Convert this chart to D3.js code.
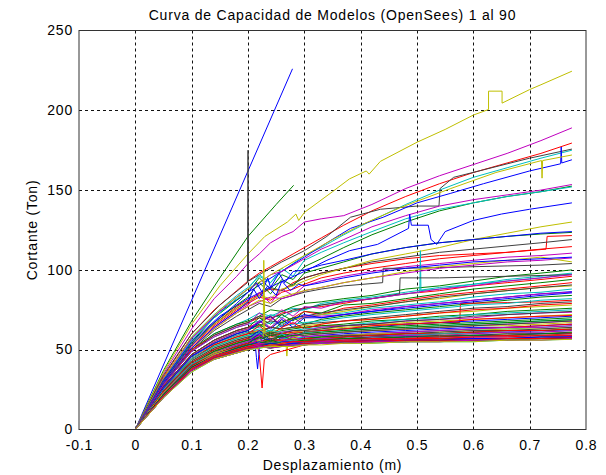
<!DOCTYPE html>
<html>
<head>
<meta charset="utf-8">
<script src="https://cdn.jsdelivr.net/npm/d3@7"></script>
<style>
  html, body { margin: 0; padding: 0; background: #fff; }
  text { font-family: "Liberation Sans", Arial, sans-serif; fill: #000; }
</style>
</head>
<body>
<svg id="chart" width="606" height="475"></svg>
<script>
// Pushover (capacity) curves of 90 building models computed with OpenSees.
const chartTitle = "Curva de Capacidad de Modelos (OpenSees) 1 al 90";
const xTitle = "Desplazamiento (m)";
const yTitle = "Cortante (Ton)";

const xTicks = [-0.1, 0, 0.1, 0.2, 0.3, 0.4, 0.5, 0.6, 0.7, 0.8];
const yTicks = [0, 50, 100, 150, 200, 250];

// Line colours, cycled in model order.
const lineColors = ["#0000ff", "#008000", "#ff0000", "#00bfbf", "#bf00bf", "#bfbf00", "#404040"];

// Common roof-displacement steps (m) for curves given as shear lists.
const disp = [0, 0.05, 0.1, 0.14, 0.18, 0.2, 0.22, 0.24, 0.26, 0.28, 0.3, 0.33, 0.37, 0.42, 0.48, 0.54, 0.6, 0.66, 0.72, 0.775];

// Base shear (Ton) per model: either values at `disp`, or explicit [displacement, shear] pairs.
const models = [
  [[0,0],[0.1,81],[0.2,162],[0.279,226]],
  [[0,0],[0.05,37],[0.1,68],[0.15,95],[0.2,121],[0.25,141],[0.281,153]],
  [0,33,60,75,87,93,98,102,106,110,114,120,128,137,146,154,161,167,173,179.5],
  [0,32,58,72,84,89,96,92,99,104,109,114,122,131,141,150,158,164,170,175],
  [0,35,63,82,96,104,110,117,121,124,130,132,134,141,151,159,166,173,181,189],
  [[0,0],[0.05,36],[0.1,66],[0.15,90],[0.2,110],[0.23,121],[0.27,130],[0.285,135],[0.29,131],[0.3,136],[0.35,149],[0.38,157],[0.41,162],[0.415,160],[0.435,168],[0.5,180],[0.55,188],[0.6,197],[0.627,200.5],[0.627,212],[0.651,212],[0.651,204.5],[0.7,213],[0.72,216],[0.775,224.5]],
  [[0,0],[0.05,34],[0.1,60],[0.15,78],[0.199,92],[0.2,175],[0.201,93],[0.22,97],[0.26,105],[0.3,112],[0.34,121],[0.382,133],[0.435,138],[0.5,140],[0.539,140],[0.541,151],[0.565,158],[0.618,162.7],[0.7,170],[0.775,175.7]],
  [[0,0],[0.05,32],[0.1,57],[0.15,74],[0.2,86],[0.25,97],[0.3,108],[0.34,117],[0.382,126],[0.44,133],[0.5,142],[0.56,148],[0.618,154],[0.7,162],[0.755,166.5],[0.756,177],[0.757,167],[0.775,169]],
  [0,31,55,70,81,86,95,88,97,94,102,107,114,122,130,137,142,146,149,152.5],
  [[0,0],[0.05,30],[0.1,53],[0.14,66],[0.18,77],[0.2,81],[0.22,85],[0.24,88],[0.26,87],[0.28,92],[0.3,95],[0.33,98],[0.37,101],[0.42,104],[0.48,107],[0.54,109],[0.6,110],[0.66,111],[0.729,113],[0.731,121],[0.775,121.5]],
  [0,31,56,70,82,88,97,92,101,96,106,111,117,124,132,138,142,146,149,152],
  [0,32,57,71,83,88,92,97,99,103,107,113,119,127,134,140,144,147,150,153.5],
  [[0,0],[0.05,32],[0.1,58],[0.15,75],[0.2,88],[0.25,99],[0.3,109],[0.35,119],[0.4,128],[0.47,139],[0.56,151],[0.64,161],[0.721,168.5],[0.722,157.5],[0.723,168.5],[0.775,172]],
  [0,30,53,66,76,80,84,89,87,91,95,98,101,105,108,111,113,115,117,119],
  [[0,0],[0.05,31],[0.1,55],[0.15,71],[0.2,82],[0.25,91],[0.3,99],[0.34,106],[0.38,112],[0.43,116],[0.485,126],[0.487,135],[0.49,128],[0.52,128],[0.525,119],[0.535,116],[0.55,124],[0.6,131],[0.65,135],[0.7,138],[0.775,142]],
  [0,30,54,67,78,83,92,85,94,90,98,101,105,110,114,117,119,121,122.5,123.5],
  [0,29,52,65,75,79,83,81,86,88,91,95,98,101,104,107,109,111,113,114.6],
  [0,29,50,60,66,69,73,71,74,76,75,79,81,83,86,89,91,94,96,98],
  [0,29,51,64,74,78,86,79,88,84,90,93,96,99,102,104,106,108,109,110.5],
  [0,30,53,66,76,80,84,82,88,90,93,97,101,106,110,114,119,123,127,130],
  [[0,0],[0.05,28],[0.1,50],[0.14,62],[0.18,71],[0.2,75],[0.22,79],[0.24,77],[0.26,82],[0.28,84],[0.3,86],[0.33,88],[0.37,90],[0.439,92],[0.44,101],[0.48,101],[0.54,101.5],[0.6,102],[0.66,102.5],[0.72,103],[0.775,104]],
  [[0,0],[0.05,30],[0.1,53],[0.14,67],[0.18,79],[0.2,86],[0.215,92],[0.225,86],[0.235,95],[0.24,89],[0.255,98],[0.265,92],[0.28,99],[0.3,100],[0.33,103],[0.37,106],[0.42,110],[0.48,114],[0.54,117],[0.6,119],[0.66,121],[0.72,123],[0.775,124]],
  [0,29,50,60,66,68,71,75,74,77,79,80,82,84,88,90,93,96,98,100],
  [0,28,50,59,65,67,70,69,73,74,76,77,79,82,85,87,90,92,94,96],
  [[0,0],[0.05,28],[0.1,49],[0.14,58],[0.18,64],[0.2,66],[0.22,68],[0.24,72],[0.26,70],[0.28,74],[0.3,75],[0.33,78],[0.37,80],[0.42,82],[0.48,85],[0.505,86],[0.506,112],[0.507,87],[0.54,88],[0.6,91],[0.66,93],[0.72,95],[0.775,97.5]],
  [0,29,51,63,73,77,80,83,82,84,87,89,92,95,98,101,103,105,106,107.5],
  [0,29,51,63,73,77,81,79,83,85,87,89,92,95,99,102,104,106,108,105],
  [[0,0],[0.05,28],[0.1,49],[0.14,59],[0.18,65],[0.2,67],[0.22,71],[0.24,70],[0.26,72],[0.28,75],[0.3,76],[0.33,78],[0.37,80],[0.42,82],[0.469,85],[0.47,95],[0.54,95],[0.6,95.5],[0.66,96],[0.72,96.5],[0.775,97]],
  [[0,0],[0.05,29],[0.1,51],[0.14,64],[0.18,74],[0.2,80],[0.21,88],[0.22,82],[0.235,90],[0.25,84],[0.26,93],[0.275,87],[0.29,91],[0.3,90],[0.33,92],[0.37,95],[0.42,98],[0.48,101],[0.54,103],[0.6,105],[0.66,106],[0.72,107],[0.775,108]],
  [0,27,47,56,62,64,70,66,72,68,74,73,78,79,82,85,88,90,92,94],
  [0,27,47,56,62,64,67,71,65,70,74,72,76,78,81,84,86,88,90,92],
  [0,26,46,55,61,63,64,67,66,69,70,72,73,76,78,80,83,85,86,88],
  [0,28,49,58,64,66,73,68,75,71,77,76,80,82,85,88,90,93,95,97],
  [0,26,46,55,61,63,66,64,68,69,70,72,74,77,80,82,85,87,89,90],
  [0,27,47,56,62,64,65,68,67,70,71,73,75,77,80,83,85,87,89,90.6],
  [0,26,46,54,60,62,68,63,69,64,70,70,72,74,77,79,81,83,85,86.4],
  [0,26,46,54,60,62,66,61,67,70,66,69,71,73,75,77,79,81,83,84],
  [[0,0],[0.05,26],[0.1,45],[0.14,54],[0.18,59],[0.2,61],[0.22,62],[0.24,64],[0.26,63],[0.28,64],[0.3,64],[0.33,65],[0.37,65],[0.42,66],[0.48,66],[0.54,67],[0.576,67],[0.577,79],[0.66,79.5],[0.72,80],[0.775,81]],
  [0,26,45,54,59,61,63,62,65,66,67,68,70,72,74,76,78,79,81,82],
  [0,26,46,55,61,63,68,64,70,66,71,71,72,75,77,79,81,83,85,86],
  [0,25,44,53,58,60,62,61,63,64,65,66,68,69,71,73,74,76,77,78],
  [0,25,44,53,58,60,61,64,63,64,66,67,68,70,72,74,76,77,79,80],
  [0,26,46,54,60,62,67,71,64,69,72,70,72,74,76,78,80,82,84,85.6],
  [0,25,44,52,57,59,61,60,62,63,64,65,66,68,69,71,72,74,75,76],
  [0,25,44,53,58,60,65,59,64,67,63,66,68,69,71,73,75,76,78,79],
  [0,25,44,52,57,59,60,62,61,62,63,64,65,67,69,70,72,73,74,75],
  [0,24,43,51,56,58,60,59,61,62,62,64,65,66,68,69,70,72,73,73.5],
  [[0,0],[0.05,24],[0.1,43],[0.14,51],[0.18,56],[0.2,58],[0.22,59],[0.24,61],[0.26,60],[0.266,61],[0.269,46],[0.272,60],[0.28,61],[0.3,62],[0.33,63],[0.37,64],[0.42,65],[0.48,67],[0.54,68],[0.6,69],[0.66,70],[0.72,71],[0.775,72]],
  [0,24,43,51,56,58,59,61,60,62,62,63,65,66,68,69,71,72,73,74],
  [0,24,42,50,55,57,62,56,60,58,61,62,63,64,66,67,68,69,70,71],
  [0,24,42,50,55,57,58,60,59,60,61,62,63,64,65,66,67,68,69,70],
  [0,24,42,50,55,57,59,58,60,61,61,62,63,65,66,67,69,70,71,71.4],
  [0,23,41,49,54,56,61,55,60,57,61,61,62,63,64,65,66,67,68,69],
  [0,23,41,49,54,56,57,59,58,59,60,60,61,62,63,64,65,66,67,68],
  [[0,0],[0.05,23],[0.1,41],[0.14,49],[0.18,54],[0.2,56],[0.22,57],[0.227,58],[0.228,106],[0.23,60],[0.24,57],[0.26,58],[0.28,58],[0.3,59],[0.33,60],[0.37,61],[0.42,62],[0.48,63],[0.54,64],[0.6,65],[0.66,65],[0.72,66],[0.775,67]],
  [0,23,41,49,54,56,58,57,58,59,59,60,61,62,63,64,65,66,67,68],
  [0,23,41,48,53,55,60,53,58,56,58,59,60,61,62,63,64,64,65,66],
  [0,23,41,49,54,56,57,59,58,59,60,61,62,63,64,65,66,67,68,68.7],
  [[0,0],[0.05,23],[0.1,41],[0.14,48],[0.18,53],[0.2,55],[0.214,57],[0.22,47],[0.225,26],[0.229,44],[0.24,47],[0.26,49],[0.29,52],[0.33,56],[0.37,58],[0.42,60],[0.48,61],[0.54,62],[0.6,63],[0.66,64],[0.72,65],[0.775,66]],
  [0,23,41,48,53,55,56,55,57,57,58,58,59,60,61,62,63,63,64,65],
  [0,23,40,48,53,55,59,54,57,60,58,59,59,60,61,62,63,64,64,65],
  [0,23,40,48,52,54,56,55,56,57,57,58,59,60,60,61,62,63,63,64],
  [0,22,40,47,52,54,55,57,56,56,57,58,59,59,60,61,62,62,63,64],
  [[0,0],[0.05,22],[0.1,40],[0.14,47],[0.18,52],[0.2,54],[0.212,57],[0.215,45],[0.217,38],[0.22,50],[0.225,57],[0.24,56],[0.26,55],[0.28,56],[0.3,57],[0.33,57],[0.37,58],[0.42,59],[0.48,59],[0.54,60],[0.6,61],[0.66,61],[0.72,62],[0.775,62.4]],
  [0,22,40,47,52,54,58,55,59,56,57,58,58,59,60,60,61,62,62,63],
  [0,22,40,47,52,54,55,56,56,56,57,57,58,59,60,60,61,62,62,63],
  [0,22,39,47,51,53,55,54,55,56,56,57,57,58,59,60,60,61,61,62],
  [0,22,39,47,51,53,57,52,55,58,56,57,57,58,59,59,60,61,61,62],
  [0,22,39,47,51,53,55,54,55,55,56,56,57,57,58,59,59,60,60,61],
  [0,22,39,46,51,53,54,55,54,55,56,56,57,58,58,59,59,60,60,61],
  [0,22,39,46,51,53,55,53,55,55,55,56,56,57,58,58,59,59,60,60],
  [0,22,39,46,51,53,54,56,54,55,56,56,57,57,58,58,59,59,60,60.5],
  [0,21,38,46,50,52,54,53,54,55,55,56,56,57,57,58,58,59,59,60],
  [0,21,38,46,50,52,53,54,54,54,55,55,56,56,57,57,58,58,59,59],
  [0,21,38,46,50,52,54,53,54,55,55,55,56,56,57,57,58,58,58,59],
  [0,21,38,45,50,52,53,53,54,54,54,55,55,56,56,57,57,57,58,58],
  [0,21,38,45,50,52,53,54,53,54,55,55,55,56,56,57,57,57,58,58],
  [0,21,37,45,49,51,53,52,53,54,54,55,55,56,56,56,57,57,58,58],
  [0,21,37,45,49,51,52,54,53,53,54,54,55,55,56,56,56,57,57,57.5],
  [0,21,38,46,50,52,53,52,54,55,55,55,56,56,57,57,58,58,59,59],
  [0,21,37,45,49,51,52,53,53,53,54,54,55,55,55,56,56,56,57,57],
  [0,21,37,45,49,51,53,52,53,54,54,55,55,55,56,56,57,57,57,58],
  [0,21,37,45,49,51,52,53,52,53,54,54,55,55,55,56,56,56,57,57],
  [0,20,37,44,48,50,52,51,53,53,53,54,54,55,55,56,56,56,57,57],
  [0,21,37,45,49,51,52,54,53,54,54,54,55,55,56,56,57,57,57,58],
  [0,20,37,44,48,50,52,51,52,53,53,54,54,55,55,55,56,56,57,57],
  [0,21,37,45,49,51,52,53,53,53,54,54,55,55,56,56,56,57,57,57.5],
  [0,20,36,44,48,50,51,52,52,53,53,54,54,54,55,55,55,56,56,56.6],
  [0,20,37,44,48,50,52,51,52,53,53,54,54,55,55,55,56,56,56,57],
  [0,20,36,44,48,50,51,52,52,52,53,53,54,54,55,55,55,56,56,56.5]
];

// ---- layout ----
const plot = { left: 79, right: 586, top: 30.5, bottom: 429.5 };

const svg = d3.select("#chart");
svg.append("rect").attr("width", 606).attr("height", 475).attr("fill", "#fff");

const x = d3.scaleLinear().domain([-0.1, 0.8]).range([plot.left, plot.right]);
const y = d3.scaleLinear().domain([0, 250]).range([plot.bottom, plot.top]);

// dotted grid
const grid = svg.append("g").attr("stroke", "#111").attr("stroke-width", 1)
  .attr("stroke-dasharray", "3,3");
grid.selectAll("line.gx").data(xTicks.slice(1, -1)).join("line")
  .attr("x1", d => Math.round(x(d)) + 0.5).attr("x2", d => Math.round(x(d)) + 0.5)
  .attr("y1", plot.top).attr("y2", plot.bottom);
grid.selectAll("line.gy").data(yTicks.slice(1, -1)).join("line")
  .attr("y1", d => Math.round(y(d)) + 0.5).attr("y2", d => Math.round(y(d)) + 0.5)
  .attr("x1", plot.left).attr("x2", plot.right);

// capacity curves
const toPoints = m => (Array.isArray(m[0]) ? m : m.map((v, i) => [disp[i], v]));
const line = d3.line().x(d => x(d[0])).y(d => y(d[1]));
svg.append("g").attr("fill", "none").attr("stroke-width", 1)
  .selectAll("path").data(models).join("path")
  .attr("stroke", (d, i) => lineColors[i % lineColors.length])
  .attr("stroke-linejoin", "round")
  .attr("d", d => line(toPoints(d)));

// axes box
const fmtX = d => (d === 0 ? "0" : d3.format(".1f")(d).replace("\u2212", "-"));
const xAxis = d3.axisBottom(x).tickValues(xTicks).tickSize(0).tickPadding(11).tickFormat(fmtX);
const yAxis = d3.axisLeft(y).tickValues(yTicks).tickSize(0).tickPadding(6)
  .tickFormat(d3.format("d"));

const gx = svg.append("g").attr("transform", `translate(0,${plot.bottom})`).call(xAxis);
const gy = svg.append("g").attr("transform", `translate(${plot.left},0)`).call(yAxis);
[gx, gy].forEach(g => {
  g.select(".domain").remove();
  g.selectAll("text").attr("font-size", 14).attr("letter-spacing", "0.8px")
    .attr("font-family", "'Liberation Sans', Arial, sans-serif").attr("fill", "#000");
});
gx.selectAll("text").attr("dy", "0.66em");
gy.selectAll("text").attr("dy", "0.3em");

svg.append("rect")
  .attr("x", plot.left).attr("y", plot.top)
  .attr("width", plot.right - plot.left).attr("height", plot.bottom - plot.top)
  .attr("fill", "none").attr("stroke", "#333").attr("stroke-width", 1);

// titles
svg.append("text").attr("x", (plot.left + plot.right) / 2).attr("y", 20)
  .attr("text-anchor", "middle").attr("font-size", 14).attr("letter-spacing", "0.8px")
  .text(chartTitle);
svg.append("text").attr("x", (plot.left + plot.right) / 2).attr("y", 470)
  .attr("text-anchor", "middle").attr("font-size", 14).attr("letter-spacing", "0.8px")
  .text(xTitle);
svg.append("text").attr("transform", `translate(37,${(plot.top + plot.bottom) / 2}) rotate(-90)`)
  .attr("text-anchor", "middle").attr("font-size", 14).attr("letter-spacing", "0.8px")
  .text(yTitle);
</script>
</body>
</html>
